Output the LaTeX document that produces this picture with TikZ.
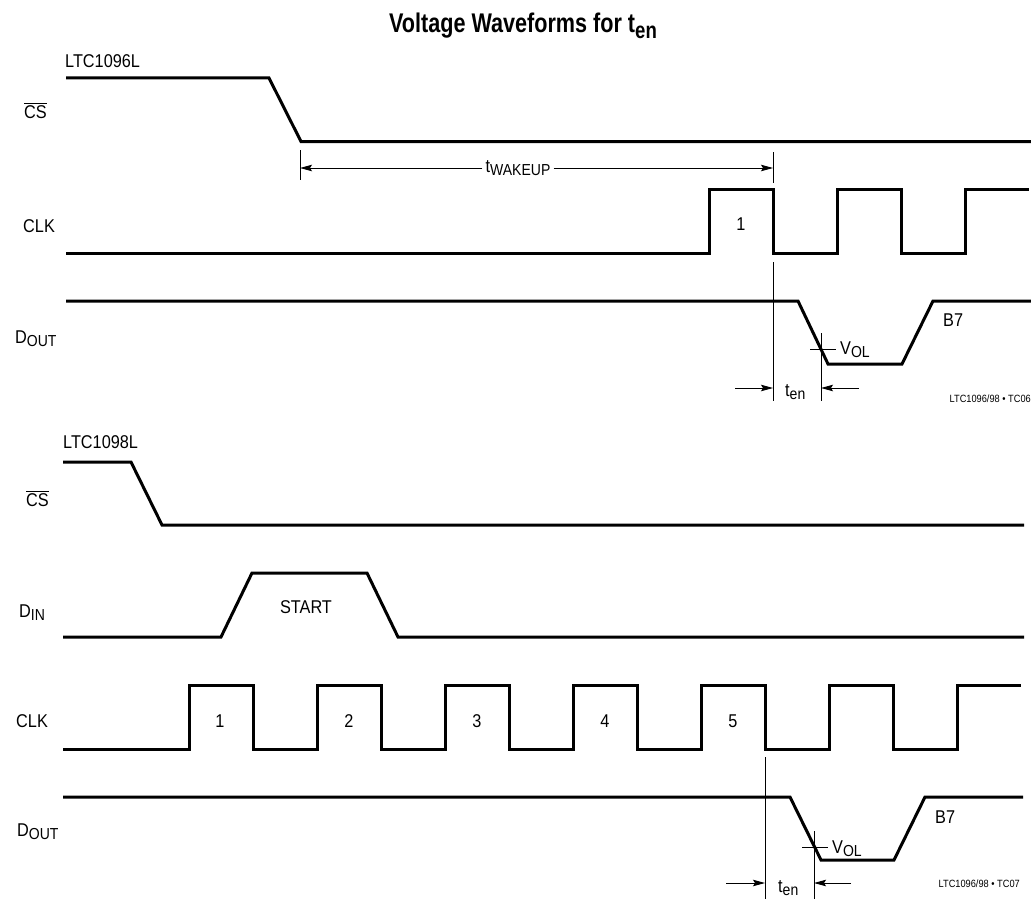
\documentclass[tikz,border=0pt]{standalone}
\usepackage{fontspec}
\setmainfont{Liberation Sans}[FakeStretch=0.88]
\newfontfamily\titlefont{Liberation Sans}[FakeStretch=0.8]
\usetikzlibrary{arrows.meta}

\newcommand{\lowsub}[1]{\raisebox{-0.2em}{\scalebox{0.86}{#1}}}
\newcommand{\csbar}{$\overline{\mbox{CS}}$}

\begin{document}
\begin{tikzpicture}[x=1pt,y=-1pt,
  wave/.style={line width=3pt},
  guide/.style={line width=0.9pt},
  dim/.style={line width=0.9pt,-{Stealth[length=12pt,width=6.5pt,inset=2pt]}},
  lbl/.style={inner sep=0pt,font=\fontsize{18.5}{18.5}\selectfont},
  tag/.style={inner sep=0pt,font=\fontsize{10.5}{10.5}\selectfont}]
\useasboundingbox (0,0) rectangle (1031,899);

\node[anchor=base,inner sep=0pt,font=\titlefont\bfseries\fontsize{27}{27}\selectfont] (title) at (523,33) {Voltage Waveforms for t\lowsub{en}};

% LTC1096L
\node[lbl,anchor=base west] (part1) at (65,67) {LTC1096L};
\node[lbl,anchor=base west] (cs1) at (24,118) {\csbar};
\node[lbl,anchor=base west] (clk1) at (23,232) {CLK};
\node[lbl,anchor=base west] (dout1) at (15,343) {D\lowsub{OUT}};

\draw[wave] (66,78) -- (269,78) -- (301,141.5) -- (1031,141.5);
\draw[wave] (66,253) -- (709,253) -- (709,189) -- (773,189) -- (773,253) -- (837,253) -- (837,189)
  -- (901,189) -- (901,253) -- (965,253) -- (965,189) -- (1029,189);
\draw[wave] (66,301) -- (798,301) -- (828,364) -- (902,364) -- (933,301) -- (1031,301);

\coordinate (wkL) at (300,150);
\coordinate (wkR) at (773,152);
\draw[guide] (wkL) -- ++(0,30);
\draw[guide] (wkR) -- ++(0,31);
\node[lbl,inner xsep=3pt] (twake) at (518,168) {t\lowsub{WAKEUP}};
\draw[dim] (twake.west) -- (twake.west -| wkL);
\draw[dim] (twake.east) -- (twake.east -| wkR);

\node[lbl,anchor=base] (p1) at (741,230) {1};

\coordinate (en1) at (773,262);
\coordinate (vol1) at (821,333);
\draw[guide] (en1) -- ++(0,139);
\draw[guide] (vol1) -- ++(0,68);
\draw[guide] (810,349) -- (836,349);
\node[lbl,anchor=base west] (v1) at (840,354) {V\lowsub{OL}};
\node[lbl,anchor=base west] (b1) at (943,326) {B7};
\coordinate (ta1) at (735,388);
\coordinate (tb1) at (859,388);
\draw[dim] (ta1) -- (ta1 -| en1);
\draw[dim] (tb1) -- (tb1 -| vol1);
\node[lbl,anchor=base west] (ten1) at (785,396) {t\lowsub{en}};
\node[tag,anchor=base east] (fig1) at (1031,402) {LTC1096/98 • TC06};

% LTC1098L
\node[lbl,anchor=base west] (part2) at (63,448) {LTC1098L};
\node[lbl,anchor=base west] (cs2) at (26,506) {\csbar};
\node[lbl,anchor=base west] (din2) at (19,617) {D\lowsub{IN}};
\node[lbl,anchor=base west] (clk2) at (16,727) {CLK};
\node[lbl,anchor=base west] (dout2) at (17,836) {D\lowsub{OUT}};

\draw[wave] (63,462) -- (131,462) -- (162,525) -- (1024,525);
\draw[wave] (63,637) -- (221,637) -- (252,573) -- (367,573) -- (398,637) -- (1024,637);
\node[lbl,anchor=base] (start) at (306,613) {START};
\draw[wave] (63,749) -- (189,749) -- (189,685) -- (253,685) -- (253,749) -- (317,749) -- (317,685)
  -- (381,685) -- (381,749) -- (445,749) -- (445,685) -- (509,685) -- (509,749) -- (573,749)
  -- (573,685) -- (637,685) -- (637,749) -- (701,749) -- (701,685) -- (765,685) -- (765,749)
  -- (829,749) -- (829,685) -- (893,685) -- (893,749) -- (957,749) -- (957,685) -- (1021,685);
\foreach \n/\x in {1/220,2/349,3/477,4/605,5/733}
  \node[lbl,anchor=base] (q\n) at (\x,727) {\n};
\draw[wave] (63,797) -- (790,797) -- (821,860) -- (894,860) -- (925,797) -- (1023,797);

\coordinate (en2) at (765,757);
\coordinate (vol2) at (814,831);
\draw[guide] (en2) -- ++(0,142);
\draw[guide] (vol2) -- ++(0,68);
\draw[guide] (802,847) -- (828,847);
\node[lbl,anchor=base west] (v2) at (832,853) {V\lowsub{OL}};
\node[lbl,anchor=base west] (b2) at (935,823) {B7};
\coordinate (ta2) at (726,883);
\coordinate (tb2) at (851,883);
\draw[dim] (ta2) -- (ta2 -| en2);
\draw[dim] (tb2) -- (tb2 -| vol2);
\node[lbl,anchor=base west] (ten2) at (778,892) {t\lowsub{en}};
\node[tag,anchor=base east] (fig2) at (1020,887) {LTC1096/98 • TC07};
\end{tikzpicture}
\end{document}
